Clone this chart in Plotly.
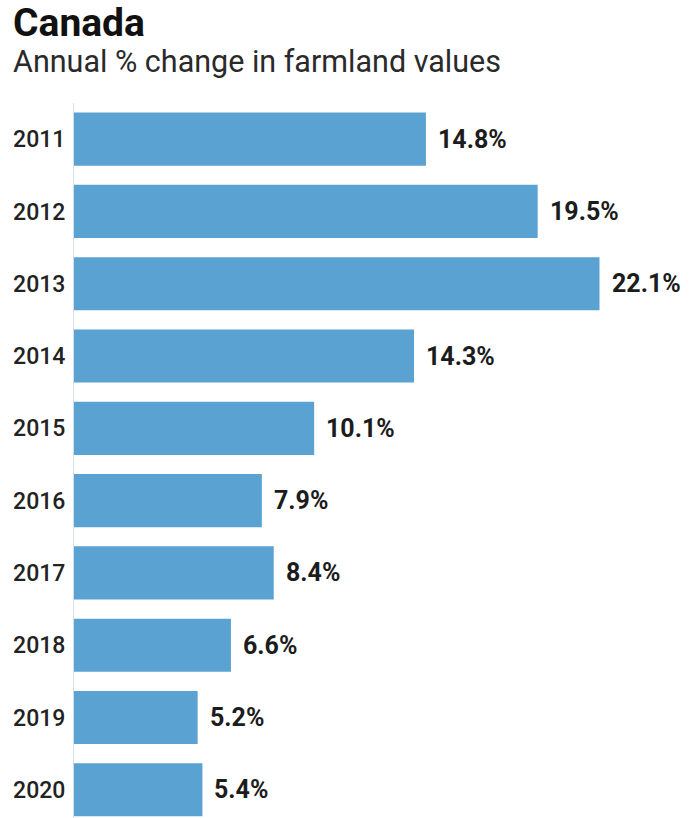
import plotly.graph_objects as go

years = ["2011", "2012", "2013", "2014", "2015", "2016", "2017", "2018", "2019", "2020"]
values = [14.8, 19.5, 22.1, 14.3, 10.1, 7.9, 8.4, 6.6, 5.2, 5.4]
value_labels = ["14.8%", "19.5%", "22.1%", "14.3%", "10.1%", "7.9%", "8.4%", "6.6%", "5.2%", "5.4%"]

title_text = "Canada"
subtitle_text = "Annual % change in farmland values"

BAR_COLOR = "#5aa2d2"
FONT = "Roboto, Arial, sans-serif"

W, H = 697, 818
ML, MT, MR, MB = 74, 103, 0, 0
plot_w = W - ML - MR
plot_h = H - MT - MB

fig = go.Figure(
    go.Bar(
        x=values,
        y=years,
        orientation="h",
        marker=dict(color=BAR_COLOR, line=dict(width=0)),
        hoverinfo="skip",
    )
)

annotations = []
for i, (v, t) in enumerate(zip(values, value_labels)):
    annotations.append(dict(
        x=v, y=i, xref="x", yref="y",
        text="<b>" + t + "</b>",
        showarrow=False, xanchor="left", yanchor="middle",
        xshift=10,
        font=dict(family=FONT, size=25, color="#1c1c1c"),
    ))

def px_to_paper_x(px):
    return (px - ML) / plot_w

def px_to_paper_y(py):
    return 1 + (MT - py) / plot_h

annotations.append(dict(
    x=px_to_paper_x(11), y=px_to_paper_y(23), xref="paper", yref="paper",
    text="<b>" + title_text + "</b>", showarrow=False,
    xanchor="left", yanchor="middle",
    font=dict(family=FONT, size=39, color="#111111"),
))
annotations.append(dict(
    x=px_to_paper_x(11), y=px_to_paper_y(62), xref="paper", yref="paper",
    text=subtitle_text, showarrow=False,
    xanchor="left", yanchor="middle",
    font=dict(family=FONT, size=30.5, color="#2a2a2a"),
))

fig.update_layout(
    width=W, height=H,
    margin=dict(l=ML, r=MR, t=MT, b=MB, pad=0),
    paper_bgcolor="white", plot_bgcolor="white",
    bargap=0.265,
    showlegend=False,
    annotations=annotations,
    xaxis=dict(
        range=[0, 26.2], showgrid=False, zeroline=False,
        showticklabels=False, showline=False, fixedrange=True,
    ),
    yaxis=dict(
        type="category",
        range=[9.39, -0.5],
        showgrid=False, zeroline=False,
        showline=True, linecolor="#d5dde5", linewidth=1,
        ticks="outside", ticklen=3, tickcolor="rgba(0,0,0,0)",
        tickfont=dict(family=FONT, size=23, color="#222222", weight=500),
        fixedrange=True,
    ),
)

fig.write_html("out.html", config={"displayModeBar": False})
